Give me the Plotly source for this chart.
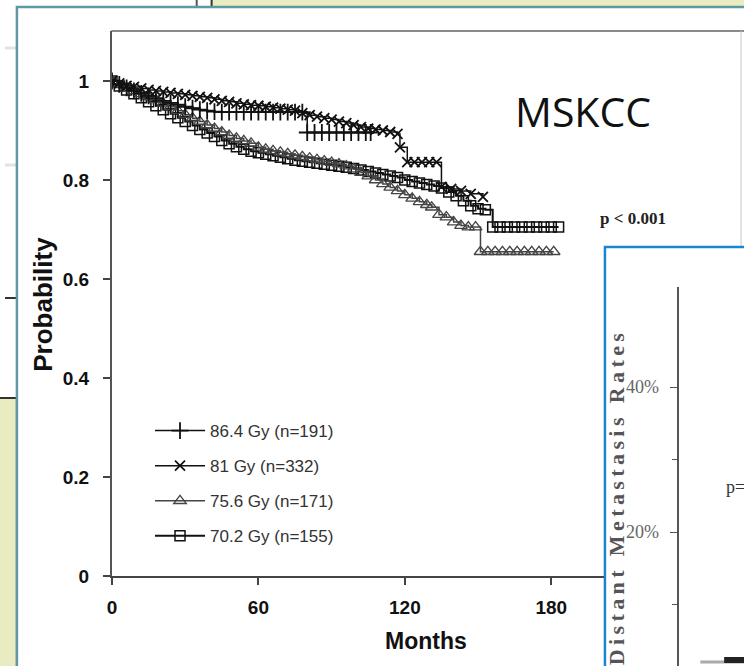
import plotly.graph_objects as go

W, H = 744, 666
FIG_H = 677  # rendered page is shown squeezed vertically by 666/677

# ---------------- data ----------------
series_names = ["86.4 Gy (n=191)", "81 Gy (n=332)", "75.6 Gy (n=171)", "70.2 Gy (n=155)"]

t_864 = [0, 3, 6, 9, 12, 15, 18, 21, 24, 27, 30, 33, 36, 39, 42,
         45, 48, 51, 54, 57, 60, 63, 66, 69, 72, 75, 78,
         80, 83, 86, 89, 92, 95, 98, 101, 104, 106]
s_864 = [1.0, 0.993, 0.986, 0.98, 0.975, 0.97, 0.965, 0.96, 0.956, 0.952, 0.948, 0.945, 0.942, 0.94, 0.938,
         0.937, 0.937, 0.937, 0.937, 0.937, 0.937, 0.937, 0.937, 0.937, 0.937, 0.937, 0.937,
         0.896, 0.896, 0.896, 0.896, 0.896, 0.896, 0.896, 0.896, 0.896, 0.896]

t_81 = [0, 3, 6, 9, 12, 15, 18, 21, 24, 27, 30, 33, 36, 39, 42, 45, 48, 51, 54, 57,
        60, 63, 66, 69, 72, 75, 78, 81, 84, 87, 90, 93, 96, 99, 102, 105, 108, 111, 114, 117,
        118, 121, 124, 127, 130, 133, 135, 139, 143, 147, 152]
s_81 = [1.0, 0.995, 0.99, 0.988, 0.985, 0.982, 0.98, 0.978, 0.976, 0.974,
        0.972, 0.97, 0.968, 0.966, 0.963, 0.96, 0.958, 0.955, 0.953, 0.951,
        0.95, 0.948, 0.946, 0.944, 0.942, 0.94, 0.935, 0.931, 0.928, 0.925,
        0.922, 0.918, 0.915, 0.911, 0.907, 0.904, 0.902, 0.9, 0.897, 0.893,
        0.866, 0.836, 0.836, 0.836, 0.836, 0.836, 0.786, 0.782, 0.778, 0.772, 0.766]

t_756 = [0, 3, 6, 9, 12, 15, 18, 21, 24, 27, 30, 33, 36, 39, 42, 45, 48, 51, 54, 57,
         60, 63, 66, 69, 72, 75, 78, 81, 84, 87, 90, 93, 96, 99, 102, 105, 108, 111, 114, 117,
         120, 123, 126, 129, 131, 134, 137, 140, 143, 146, 149,
         151, 154, 157, 160, 163, 166, 169, 172, 175, 178, 181]
s_756 = [1.0, 0.992, 0.986, 0.98, 0.974, 0.968, 0.962, 0.955, 0.948, 0.94,
         0.932, 0.925, 0.918, 0.911, 0.904, 0.897, 0.89, 0.884, 0.879, 0.874,
         0.866, 0.862, 0.859, 0.856, 0.853, 0.85, 0.847, 0.844, 0.841, 0.838,
         0.835, 0.832, 0.828, 0.822, 0.815, 0.808, 0.8, 0.792, 0.785, 0.778,
         0.77, 0.763, 0.756, 0.75, 0.745, 0.73, 0.725, 0.715, 0.708, 0.705, 0.705,
         0.655, 0.655, 0.655, 0.655, 0.655, 0.655, 0.655, 0.655, 0.655, 0.655, 0.655]

t_702 = [0, 3, 6, 9, 12, 15, 18, 21, 24, 27, 30, 33, 36, 39, 42, 45, 48, 51, 54, 57,
         60, 63, 66, 69, 72, 75, 78, 81, 84, 87, 90, 93, 96, 99, 102, 105, 108, 111, 114, 117,
         120, 123, 126, 129, 132, 135, 138, 141, 144, 147, 150, 153,
         156, 159, 162, 165, 168, 171, 174, 177, 180, 183]
s_702 = [1.0, 0.99, 0.982, 0.974, 0.966, 0.958, 0.95, 0.942, 0.934, 0.926,
         0.918, 0.91, 0.902, 0.895, 0.888, 0.88, 0.873, 0.867, 0.862, 0.858,
         0.855, 0.852, 0.849, 0.846, 0.843, 0.84, 0.838, 0.836, 0.834, 0.832,
         0.83, 0.828, 0.826, 0.823, 0.82, 0.817, 0.814, 0.811, 0.808, 0.805,
         0.8, 0.797, 0.794, 0.791, 0.788, 0.784, 0.776, 0.768, 0.758, 0.748, 0.742, 0.74,
         0.705, 0.705, 0.705, 0.705, 0.705, 0.705, 0.705, 0.705, 0.705, 0.705]

x_ticks = [0, 60, 120, 180]
y_ticks = [0, 0.2, 0.4, 0.6, 0.8, 1.0]
y_ticktext = ["0", "0.2", "0.4", "0.6", "0.8", "1"]

inset_ticks = [20, 40]
inset_ticktext = ["20%", "40%"]
inset_minor = [10, 30]

# ---------------- helpers (reference pixel -> paper fraction) ----------------
def X(px):
    return px / W

def Y(py):
    return 1 - py / H

fig = go.Figure()

styles = [
    dict(sym="cross-thin", col="#111111", lw=1.5, ms=12, mlw=1.8),
    dict(sym="x-thin", col="#111111", lw=1.5, ms=10, mlw=1.8),
    dict(sym="triangle-up-open", col="#444444", lw=1.5, ms=11, mlw=1.3),
    dict(sym="square-open", col="#111111", lw=2.0, ms=10, mlw=1.5),
]
data = [(t_864, s_864), (t_81, s_81), (t_756, s_756), (t_702, s_702)]

order = [3, 2, 1, 0]
for i in order:
    name, (tt, ss), st = series_names[i], data[i], styles[i]
    fig.add_trace(go.Scatter(
        x=tt, y=ss, name=name, mode="lines+markers",
        line=dict(shape="hv", color=st["col"], width=st["lw"]),
        marker=dict(symbol=st["sym"], size=st["ms"], color=st["col"],
                    line=dict(color=st["col"], width=st["mlw"])),
        legendgroup=f"g{i}", legendrank=i + 1, xaxis="x", yaxis="y",
    ))

fig.add_trace(go.Scatter(x=[0], y=[None], xaxis="x2", yaxis="y2", showlegend=False,
                         mode="markers", marker=dict(opacity=0)))

px_per_month = 2.457
x_end = (603 - 107.7) / px_per_month
y_top = (576 - 31) / 495.0

shapes = []
shapes.append(dict(type="rect", xref="paper", yref="paper", x0=X(208), x1=X(760), y0=Y(7), y1=Y(-10),
                   fillcolor="#e9ecc0", line=dict(color="#333333", width=2), layer="below"))
shapes.append(dict(type="line", xref="paper", yref="paper", x0=X(193), x1=X(193), y0=Y(0), y1=Y(8),
                   line=dict(color="#555555", width=2), layer="below"))
shapes.append(dict(type="line", xref="paper", yref="paper", x0=X(0), x1=X(12), y0=Y(48), y1=Y(48),
                   line=dict(color="#e2e2e2", width=3), layer="below"))
shapes.append(dict(type="line", xref="paper", yref="paper", x0=X(0), x1=X(12), y0=Y(165), y1=Y(165),
                   line=dict(color="#e2e2e2", width=3), layer="below"))
shapes.append(dict(type="line", xref="paper", yref="paper", x0=X(0), x1=X(12), y0=Y(298), y1=Y(298),
                   line=dict(color="#333333", width=2), layer="below"))
shapes.append(dict(type="rect", xref="paper", yref="paper", x0=X(-10), x1=X(12), y0=Y(398), y1=Y(700),
                   fillcolor="#e9ecc0", line=dict(color="#333333", width=2), layer="below"))
shapes.append(dict(type="rect", xref="paper", yref="paper", x0=X(12), x1=X(770), y0=Y(7), y1=Y(700),
                   fillcolor="white", line=dict(color="#5f98a4", width=2.5), layer="below"))
shapes.append(dict(type="line", xref="paper", yref="paper", x0=X(107), x1=X(744), y0=Y(31), y1=Y(31),
                   line=dict(color="#8a8a8a", width=2), layer="below"))
shapes.append(dict(type="line", xref="paper", yref="paper", x0=X(741), x1=X(741), y0=Y(31), y1=Y(246),
                   line=dict(color="#c8c8c8", width=1), layer="below"))
shapes.append(dict(type="rect", xref="paper", yref="paper", x0=X(604), x1=X(770), y0=Y(247), y1=Y(700),
                   fillcolor="white", line=dict(color="#1a86d0", width=2.5), layer="below"))
shapes.append(dict(type="line", xref="paper", yref="paper", x0=X(700), x1=X(744), y0=Y(662), y1=Y(662),
                   line=dict(color="#aaaaaa", width=3), layer="below"))
shapes.append(dict(type="rect", xref="paper", yref="paper", x0=X(724), x1=X(744), y0=Y(657), y1=Y(663),
                   fillcolor="#222222", line=dict(width=0), layer="below"))

ts = "\u2009"
inset_title = (ts.join("Distant") + ts + " " + ts + ts.join("Metastasis") + ts + " " + ts + ts.join("Rates"))

annotations = [
    dict(text="MSKCC", xref="paper", yref="paper", x=X(582), y=Y(111), showarrow=False,
         font=dict(family="Open Sans", size=41, color="#111111"), xanchor="center", yanchor="middle"),
    dict(text="<b>p &lt; 0.001</b>", xref="paper", yref="paper", x=X(597), y=Y(219), showarrow=False,
         font=dict(family="Liberation Serif", size=17, color="#222222"), xanchor="left", yanchor="middle"),
    dict(text="<b>Probability</b>", xref="paper", yref="paper", x=X(38), y=Y(304), showarrow=False,
         textangle=-90, font=dict(family="Liberation Sans", size=26, color="#111111"),
         xanchor="center", yanchor="middle"),
    dict(text="<b>Months</b>", xref="paper", yref="paper", x=X(424), y=Y(641), showarrow=False,
         font=dict(family="Liberation Sans", size=23, color="#111111"), xanchor="center", yanchor="middle"),
    dict(text="<b>" + inset_title + "</b>", xref="paper", yref="paper", x=X(616), y=Y(330),
         showarrow=False, textangle=-90,
         font=dict(family="Liberation Serif", size=22, color="#555555"), xanchor="center", yanchor="top"),
    dict(text="p=", xref="paper", yref="paper", x=X(724), y=Y(487), showarrow=False,
         font=dict(family="Liberation Serif", size=18, color="#333333"), xanchor="left", yanchor="middle"),
]

fig.update_layout(
    width=W, height=FIG_H,
    margin=dict(l=0, r=0, t=0, b=0),
    paper_bgcolor="white",
    plot_bgcolor="rgba(0,0,0,0)",
    font=dict(family="Liberation Sans", color="#111111"),
    showlegend=True,
    legend=dict(x=X(146), y=Y(413), xanchor="left", yanchor="top",
                font=dict(family="Liberation Sans", size=17, color="#333333"),
                bgcolor="rgba(0,0,0,0)", tracegroupgap=10, traceorder="grouped", itemwidth=50),
    xaxis=dict(domain=[X(107.7), X(603)], range=[0, x_end], tickvals=x_ticks,
               ticks="outside", ticklen=7, tickwidth=1.5, tickcolor="#444444",
               showline=True, linecolor="#444444", linewidth=2, showgrid=False, zeroline=False,
               tickfont=dict(family="Liberation Sans", size=19, color="#111111", weight="bold"),
               ticklabelstandoff=6, anchor="y", fixedrange=True),
    yaxis=dict(domain=[Y(576), Y(31)], range=[0, y_top], tickvals=y_ticks, ticktext=y_ticktext,
               ticks="outside", ticklen=7, tickwidth=1.5, tickcolor="#444444",
               showline=True, linecolor="#555555", linewidth=2, showgrid=False, zeroline=False,
               tickfont=dict(family="Liberation Sans", size=19, color="#111111", weight="bold"),
               ticklabelstandoff=10, anchor="x", fixedrange=True),
    xaxis2=dict(domain=[X(679), 1.0], range=[0, 1], visible=False, anchor="y2", fixedrange=True),
    yaxis2=dict(domain=[0, Y(287)], range=[(677 - 666) / 7.25, (677 - 287) / 7.25],
                tickvals=inset_ticks, ticktext=inset_ticktext,
                ticks="outside", ticklen=8, tickwidth=1.2, tickcolor="#555555",
                minor=dict(tickvals=inset_minor, ticks="outside", ticklen=6, tickcolor="#555555", tickwidth=1.2),
                showline=True, linecolor="#555555", linewidth=1.5, showgrid=False, zeroline=False,
                tickfont=dict(family="Liberation Serif", size=18, color="#666666"),
                ticklabelstandoff=7, anchor="x2", fixedrange=True),
    shapes=shapes,
    annotations=annotations,
)

fig.write_html(
    "out.html",
    config={"displayModeBar": False},
    post_script=(
        "var gd=document.getElementById('{plot_id}');"
        "gd.style.position='fixed';gd.style.left='0px';gd.style.top='0px';"
        "document.body.style.margin='0px';document.body.style.padding='0px';"
        "document.documentElement.style.overflow='hidden';document.body.style.overflow='hidden';"
    ),
)
